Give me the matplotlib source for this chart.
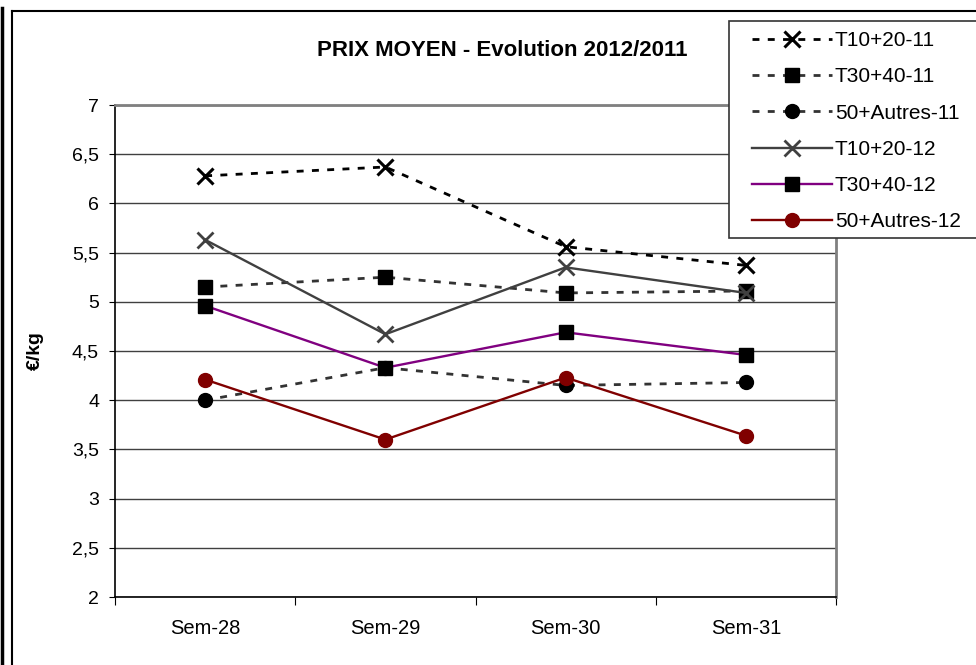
import matplotlib
matplotlib.use('Agg')
import matplotlib.pyplot as plt
from matplotlib.lines import Line2D
from matplotlib.patches import Rectangle
import numpy as np

plt.rcParams['font.family'] = ['Liberation Sans', 'DejaVu Sans']

weeks = ['Sem-28', 'Sem-29', 'Sem-30', 'Sem-31']

t1020_11 = [6.28, 6.37, 5.56, 5.37]
t3040_11 = [5.15, 5.25, 5.09, 5.11]
autres_11 = [4.00, 4.33, 4.15, 4.18]
t1020_12 = [5.63, 4.67, 5.35, 5.09]
t3040_12 = [4.96, 4.33, 4.69, 4.46]
autres_12 = [4.21, 3.60, 4.23, 3.64]

labels = ['T10+20-11', 'T30+40-11', '50+Autres-11',
          'T10+20-12', 'T30+40-12', '50+Autres-12']

W, H = 976, 665
fig = plt.figure(figsize=(W / 100, H / 100), dpi=100)
ax = fig.add_axes([115 / W, 1 - 597 / H, (836 - 115) / W, (597 - 105) / H])

x = np.arange(len(weeks))
dash = (2.5, 3)
ms = 10

ax.plot(x, t1020_11, color='black', lw=2, dashes=dash, marker='x', ms=11, mew=2.2, mec='black', label=labels[0])
ax.plot(x, t3040_11, color='#333333', lw=2, dashes=dash, marker='s', ms=ms, mfc='black', mec='black', label=labels[1])
ax.plot(x, autres_11, color='#333333', lw=2, dashes=dash, marker='o', ms=ms, mfc='black', mec='black', label=labels[2])
ax.plot(x, t1020_12, color='#404040', lw=1.7, marker='x', ms=11, mew=2, mec='#404040', label=labels[3])
ax.plot(x, t3040_12, color='#800080', lw=1.7, marker='s', ms=ms, mfc='black', mec='black', label=labels[4])
ax.plot(x, autres_12, color='#800000', lw=1.7, marker='o', ms=ms, mfc='#800000', mec='#800000', label=labels[5])

ax.set_xlim(-0.5, len(weeks) - 0.5)
ax.set_ylim(2, 7)
ax.set_yticks(np.arange(2, 7.01, 0.5))
ax.set_yticklabels([('%g' % v).replace('.', ',') for v in np.arange(2, 7.01, 0.5)])
ax.yaxis.grid(True, color='#404040', lw=1)
ax.set_axisbelow(True)

ax.set_xticks(np.arange(-0.5, len(weeks), 1))
ax.set_xticklabels([])
ax.set_xticks(x, minor=True)
ax.set_xticklabels(weeks, minor=True)
ax.tick_params(axis='x', which='major', length=6, direction='out', color='black')
ax.tick_params(axis='x', which='minor', length=0, pad=16, labelsize=14.5)
ax.tick_params(axis='y', length=4.5, direction='out', pad=7, labelsize=14)

for s in ['left', 'bottom']:
    ax.spines[s].set_color('black')
    ax.spines[s].set_linewidth(1.2)
for s in ['top', 'right']:
    ax.spines[s].set_color('#808080')
    ax.spines[s].set_linewidth(2)

ax.set_ylabel('€/kg', fontsize=14, fontweight='bold', labelpad=20)
fig.text(502 / W, 1 - 50 / H, 'PRIX MOYEN - Evolution 2012/2011', fontsize=16,
         fontweight='bold', ha='center', va='center')

# chart frame
fig.add_artist(Line2D([2 / W, 2 / W], [0, 1 - 8 / H], color='black', lw=2.5))
fig.add_artist(Line2D([12 / W, 12 / W], [0, 1 - 11 / H], color='black', lw=1.5))
fig.add_artist(Line2D([12 / W, 1], [1 - 11 / H, 1 - 11 / H], color='black', lw=1.5))

# legend box
fig.add_artist(Rectangle((729 / W, 1 - 238 / H), (W - 729) / W + 0.01, (238 - 21) / H,
                         transform=fig.transFigure, fc='white', ec='#333333', lw=1.2, zorder=5))
handles, _ = ax.get_legend_handles_labels()
leg = fig.legend(handles, labels, loc='upper left', bbox_to_anchor=(752 / W, 1 - 31 / H),
                 frameon=False, fontsize=15, handlelength=3.85, handletextpad=0.12,
                 labelspacing=0.83, borderpad=0, borderaxespad=0)
leg.set_zorder(6)

fig.savefig('out.png', dpi=100)
